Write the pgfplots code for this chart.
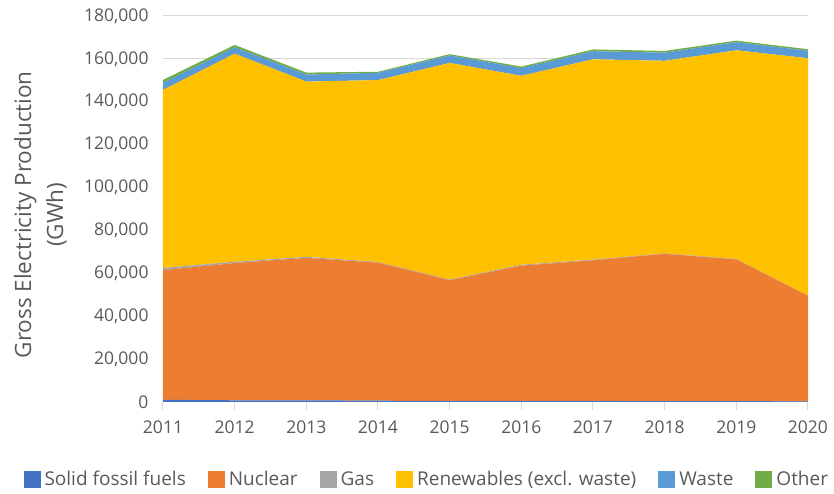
\documentclass[border=0pt]{standalone}
\usepackage{fontspec}
\setmainfont{Open Sans}
\usepackage{pgfplots}
\usepackage{pgfplotstable}
\pgfplotsset{compat=1.18}
\definecolor{cSolid}{HTML}{4472C4}
\definecolor{cNuc}{HTML}{ED7D31}
\definecolor{cGas}{HTML}{A5A5A5}
\definecolor{cRen}{HTML}{FFC000}
\definecolor{cWaste}{HTML}{5B9BD5}
\definecolor{cOther}{HTML}{70AD47}
\definecolor{cText}{HTML}{595959}
\definecolor{cGrid}{HTML}{D9D9D9}
\pgfplotstableread{
year solid nuclear gas ren waste other
2011 1000 60500 1000 83000 3300 1400
2012 800 64000 600 97000 3000 1100
2013 800 66400 500 81700 3300 900
2014 600 64400 300 84800 3400 500
2015 500 56300 300 101000 3500 600
2016 500 63100 400 88100 3600 700
2017 500 65600 300 93400 3800 800
2018 400 68700 200 89800 3800 800
2019 400 66100 200 97300 3800 700
2020 300 49200 100 110700 3500 700
}\data
\begin{document}
\begin{tikzpicture}
\useasboundingbox (-163pt,-92pt) rectangle (671pt,402pt);
\begin{axis}[
  at={(0pt,0pt)}, anchor=south west,
  scale only axis, width=645pt, height=386pt,
  xmin=2011, xmax=2020, ymin=0, ymax=180000,
  xtick={2011,2012,...,2020},
  ytick={0,20000,...,180000},
  stack plots=y,
  axis x line*=bottom, axis y line*=left,
  y axis line style={draw=none},
  x axis line style={draw=cGrid, line width=1pt},
  ytick style={draw=none},
  xtick style={draw=cGrid, line width=1pt},
  tick align=outside, major tick length=8pt,
  ymajorgrids, grid style={draw=cGrid, line width=1pt},
  /pgf/number format/assume math mode=true,
  scaled y ticks=false,
  yticklabel style={/pgf/number format/fixed, /pgf/number format/1000 sep={,}, font=\fontsize{17.5}{20}\selectfont, text=cText, xshift=-3pt},
  xticklabel style={/pgf/number format/1000 sep={}, font=\fontsize{17.5}{20}\selectfont, text=cText, yshift=-7pt},
  ylabel={Gross Electricity Production\\(GWh)},
  ylabel style={align=center, font=\fontsize{22.5}{32}\selectfont, text=cText, at={(axis description cs:-0.19,0.485)}, anchor=center},
  legend columns=-1,
  legend style={draw=none, fill=none, at={(axis description cs:0.409,-0.1995)}, anchor=center, font=\fontsize{19}{22}\selectfont, text=cText,
    /tikz/every even column/.append style={column sep=20pt},
    /tikz/every odd column/.append style={column sep=2pt}},
  legend image code/.code={\fill[#1] (0pt,-8.5pt) rectangle (17pt,8.5pt);},
]
\addplot[fill=cSolid, draw=none] table[x=year,y=solid]{\data} \closedcycle;
\addlegendentry{Solid fossil fuels}
\addplot[fill=cNuc, draw=none] table[x=year,y=nuclear]{\data} \closedcycle;
\addlegendentry{Nuclear}
\addplot[fill=cGas, draw=none] table[x=year,y=gas]{\data} \closedcycle;
\addlegendentry{Gas}
\addplot[fill=cRen, draw=none] table[x=year,y=ren]{\data} \closedcycle;
\addlegendentry{Renewables (excl. waste)}
\addplot[fill=cWaste, draw=none] table[x=year,y=waste]{\data} \closedcycle;
\addlegendentry{Waste}
\addplot[fill=cOther, draw=none] table[x=year,y=other]{\data} \closedcycle;
\addlegendentry{Other}
\end{axis}
\end{tikzpicture}
\end{document}
